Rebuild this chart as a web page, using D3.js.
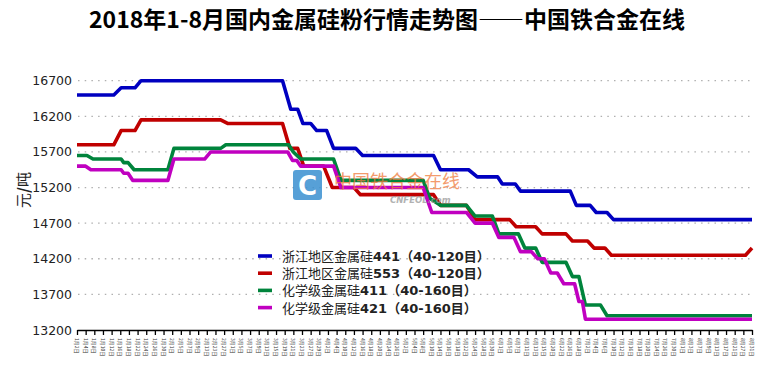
<!DOCTYPE html>
<html lang="zh">
<head>
<meta charset="UTF-8">
<title>2018年1-8月国内金属硅粉行情走势图</title>
<script src="https://d3js.org/d3.v7.min.js"></script>
<style>
  body { margin: 0; background: #fff; }
  svg text { font-family: "DejaVu Sans", "Noto Sans CJK SC", sans-serif; }
</style>
</head>
<body>
<div id="chart"></div>
<script>
// tick labels, one every second trading day
var dateLabels = [
  "1月2日","1月4日","1月8日","1月10日","1月12日","1月16日","1月18日","1月22日","1月24日","1月26日","1月30日",
  "2月1日","2月5日","2月7日","2月9日","2月13日","2月23日","2月27日",
  "3月1日","3月5日","3月7日","3月9日","3月13日","3月15日","3月19日","3月21日","3月23日","3月27日","3月29日",
  "4月2日","4月4日","4月10日","4月12日","4月16日","4月18日","4月20日","4月24日","4月26日",
  "5月2日","5月4日","5月8日","5月10日","5月14日","5月16日","5月18日","5月22日","5月24日","5月28日","5月30日",
  "6月1日","6月5日","6月7日","6月11日","6月13日","6月15日","6月20日","6月22日","6月26日","6月28日",
  "7月2日","7月4日","7月6日","7月10日","7月12日","7月16日","7月18日","7月20日","7月24日","7月26日","7月30日",
  "8月1日","8月3日","8月7日","8月9日","8月13日","8月17日","8月21日","8月27日","8月31日"
];
var yTicks = [13200, 13700, 14200, 14700, 15200, 15700, 16200, 16700];

// price points [trading day index, 元/吨]
var zj441 = [[0,16500],[8.5,16500],[10.2,16600],[13.4,16600],[14.8,16700],[47.5,16700],[49.4,16300],[51,16300],
  [52.2,16100],[54,16100],[55.4,16000],[57.7,16000],[59.3,15750],[64.4,15750],[66,15650],[82.4,15650],
  [84,15450],[90.5,15450],[92.5,15350],[97.2,15350],[98.3,15250],[101.3,15250],[102.5,15150],[114,15150],
  [115.4,14950],[118.6,14950],[120,14850],[122.5,14850],[124,14750],[156,14750]];
var zj553 = [[0,15800],[8.5,15800],[10.2,16000],[13.4,16000],[14.8,16150],[33.2,16150],[34.8,16100],[47.5,16100],
  [49.2,15750],[51,15750],[52.4,15500],[57,15500],[59,15200],[64,15200],[65.5,15100],[82.4,15100],
  [84,14950],[90,14950],[92,14750],[100,14750],[101.5,14650],[106,14650],[107.5,14550],[113,14550],
  [114.5,14450],[118,14450],[119.5,14350],[122,14350],[123.5,14250],[154.5,14250],[156,14350]];
var hx411 = [[0,15650],[2.3,15650],[3.7,15600],[10.2,15600],[10.8,15550],[11.8,15550],[13.2,15450],[21,15450],
  [22.4,15750],[33.2,15750],[34.4,15800],[48.9,15800],[50,15700],[51.7,15600],[59.3,15600],[61,15300],
  [80,15300],[81.5,15050],[84,14950],[90,14950],[92,14800],[96,14800],[97.5,14550],[102,14550],
  [103.5,14350],[106,14350],[107.5,14150],[113,14150],[114.5,13950],[116,13950],[117.5,13550],[121,13550],
  [122.5,13400],[156,13400]];
var hx421 = [[0,15500],[2,15500],[3.2,15450],[10.2,15450],[10.8,15400],[11.8,15400],[12.9,15300],[21,15300],
  [22.4,15600],[29.5,15600],[30.9,15700],[48.7,15700],[49.8,15580],[50.8,15580],[51.7,15500],[59.3,15500],
  [61,15200],[80,15200],[82,14850],[90,14850],[92,14700],[96,14700],[97.5,14500],[101,14500],
  [102.5,14300],[105,14300],[106.5,14200],[108,14200],[109.5,14000],[111,14000],[112.5,13850],[115,13850],
  [116,13600],[116.8,13600],[117.5,13350],[156,13350]];

var seriesNames = ["浙江地区金属硅", "浙江地区金属硅", "化学级金属硅", "化学级金属硅"];
var seriesCodes = ["441", "553", "411", "421"];
var seriesMesh = ["40-120目", "40-120目", "40-160目", "40-160目"];
var seriesColors = ["#0000c0", "#c00000", "#00843c", "#c000c0"];
var seriesData = [zj441, zj553, hx411, hx421];

var width = 760, height = 370;
var svg = d3.select("#chart").append("svg")
  .attr("width", width)
  .attr("height", height);

var x = d3.scaleLinear().domain([0, 156]).range([77, 752]);
var y = d3.scaleLinear().domain([13200, 16700]).range([330, 80.7]);

// title
svg.append("text")
  .attr("x", 387).attr("y", 28)
  .attr("text-anchor", "middle")
  .style("font-family", "'Liberation Sans Narrow', 'Noto Sans CJK SC', sans-serif")
  .style("font-size", "23px")
  .style("font-weight", "bold")
  .attr("fill", "#000")
  .text("2018年1-8月国内金属硅粉行情走势图——中国铁合金在线");

// dotted grid
svg.append("g")
  .selectAll("line")
  .data(yTicks.slice(1))
  .join("line")
  .attr("x1", 78).attr("x2", 752)
  .attr("y1", function(d) { return y(d); })
  .attr("y2", function(d) { return y(d); })
  .attr("stroke", "#b0b0b0")
  .attr("stroke-width", 1.3)
  .attr("stroke-dasharray", "1.5,5.2");

// y axis
var yAxis = svg.append("g")
  .attr("transform", "translate(77,0)")
  .call(d3.axisLeft(y).tickValues(yTicks).tickSize(0).tickPadding(5).tickFormat(d3.format("d")));
yAxis.select(".domain").remove();
yAxis.selectAll("text")
  .style("font-size", "12.5px")
  .attr("fill", "#222");

var yTitle = svg.append("text")
  .attr("transform", "translate(29,190) rotate(-90)")
  .attr("text-anchor", "middle")
  .style("font-family", "'Noto Sans CJK SC', sans-serif")
  .style("font-size", "15px")
  .attr("fill", "#222");
yTitle.append("tspan").text("元");
yTitle.append("tspan").style("font-weight", "bold").text("/");
yTitle.append("tspan").text("吨");

// lines
var line = d3.line()
  .x(function(d) { return x(d[0]); })
  .y(function(d) { return y(d[1]); });

svg.append("g")
  .selectAll("path")
  .data(seriesData)
  .join("path")
  .attr("fill", "none")
  .attr("stroke", function(d, i) { return seriesColors[i]; })
  .attr("stroke-width", 3.6)
  .attr("stroke-linejoin", "round")
  .attr("d", line);

// watermark, sits over the lines
var wm = svg.append("g");
wm.append("rect")
  .attr("x", 293).attr("y", 170).attr("width", 29).attr("height", 30).attr("rx", 3)
  .attr("fill", "#3a8fd0").attr("opacity", 0.85);
wm.append("text")
  .attr("x", 307.5).attr("y", 195).attr("text-anchor", "middle")
  .style("font-size", "26px").style("font-weight", "bold")
  .attr("fill", "#fff").text("C");
wm.append("text")
  .attr("x", 334).attr("y", 188)
  .style("font-family", "'Noto Sans CJK SC', sans-serif")
  .style("font-size", "18px")
  .attr("fill", "#f07a3c").attr("opacity", 0.75)
  .text("中国铁合金在线");
wm.append("text")
  .attr("x", 390).attr("y", 203)
  .style("font-size", "8.5px").style("font-style", "italic").style("font-weight", "bold")
  .attr("fill", "#999").attr("opacity", 0.75)
  .text("CNFEOL.com");

// x axis
var tickIdx = dateLabels.map(function(d, i) { return i * 2; });
var xAxis = svg.append("g")
  .attr("transform", "translate(0,330)")
  .call(d3.axisBottom(x).tickValues(tickIdx).tickSize(5).tickSizeOuter(0).tickFormat(""));
xAxis.select(".domain").attr("stroke", "#000").attr("stroke-width", 1.5);
xAxis.selectAll(".tick line").attr("stroke", "#000").attr("stroke-width", 1.3);

svg.append("g")
  .selectAll("text")
  .data(dateLabels)
  .join("text")
  .attr("transform", function(d, i) { return "translate(" + (x(i * 2) - 2) + ",338) rotate(90)"; })
  .style("font-family", "'Noto Sans CJK SC', sans-serif")
  .style("font-size", "5px")
  .attr("fill", "#333")
  .text(function(d) { return d; });

// legend
var legend = svg.append("g")
  .selectAll("g")
  .data(seriesCodes)
  .join("g")
  .attr("transform", function(d, i) { return "translate(258," + (256 + i * 17.2) + ")"; });
legend.append("line")
  .attr("x1", 0).attr("x2", 14)
  .attr("stroke", function(d, i) { return seriesColors[i]; })
  .attr("stroke-width", 3.6);
var lt = legend.append("text")
  .attr("x", 24).attr("y", 5)
  .style("font-size", "13px")
  .attr("fill", "#222");
lt.append("tspan")
  .style("font-family", "'Noto Sans CJK SC', sans-serif")
  .text(function(d, i) { return seriesNames[i]; });
lt.append("tspan")
  .style("font-weight", "bold")
  .text(function(d) { return d; });
lt.append("tspan")
  .style("font-family", "'Noto Sans CJK SC', sans-serif")
  .style("font-weight", "bold")
  .text("（");
lt.append("tspan")
  .style("font-weight", "bold")
  .text(function(d, i) { return seriesMesh[i].replace("目", ""); });
lt.append("tspan")
  .style("font-family", "'Noto Sans CJK SC', sans-serif")
  .style("font-weight", "bold")
  .text("目）");
</script>
</body>
</html>
